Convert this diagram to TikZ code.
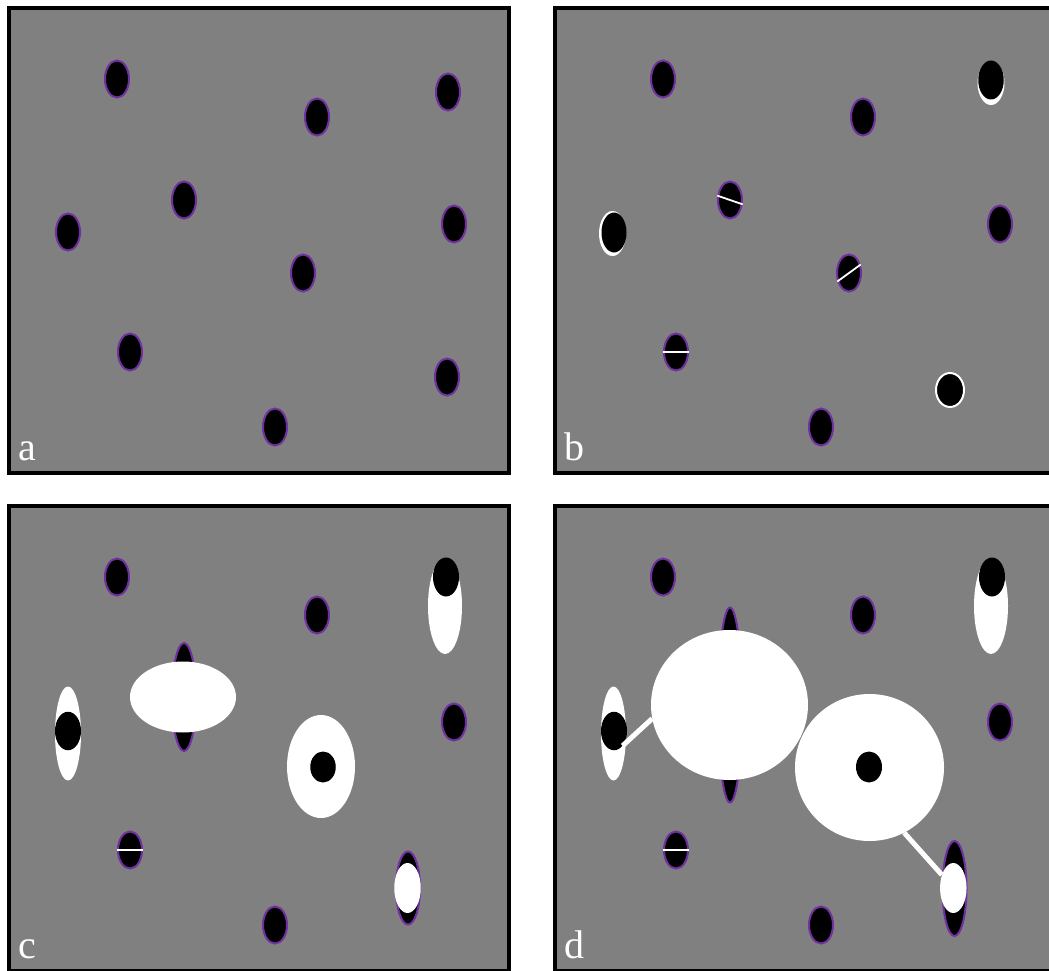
\documentclass[tikz,border=0pt]{standalone}
\usepackage{fontspec}
\setmainfont{Liberation Serif}
\usetikzlibrary{shapes.geometric}
\definecolor{panelgray}{HTML}{808080}
\definecolor{rimpurple}{HTML}{7030A0}
\tikzset{
  panel/.style={
    draw=black,
    fill=panelgray,
    line width=4.5pt
  },
  cell/.style={
    ellipse,
    draw=rimpurple,
    fill=black,
    line width=2pt,
    inner sep=0pt,
    minimum width=24pt,
    minimum height=37pt
  },
  core/.style={
    ellipse,
    fill=black,
    inner sep=0pt,
    minimum width=26pt,
    minimum height=39pt
  },
  halo/.style={
    ellipse,
    fill=white,
    inner sep=0pt
  },
  ring/.style={
    core,
    draw=white,
    line width=2pt,
    minimum width=28pt,
    minimum height=34pt
  },
  cut/.style={
    draw=white,
    line width=1.8pt
  },
  link/.style={
    draw=white,
    line width=5pt
  },
  tag/.style={
    text=white,
    inner sep=0pt,
    anchor=base west,
    font=\fontsize{40}{48}\selectfont
  }
}

\begin{document}
\begin{tikzpicture}[x=1pt,y=-1pt]
  \useasboundingbox (0,0) rectangle (1049,971);
  \clip (0,0) rectangle (1049,971);

  % Panel a
  \begin{scope}
    \draw[panel] (9,8) rectangle (509,473);
    \foreach \n/\x/\y in {1/117/79, 2/317/117, 3/448/92, 4/184/200, 5/68/232,
                          6/454/224, 7/303/273, 8/130/352, 9/447/377, 10/275/427}
      \node[cell] (a\n) at (\x,\y) {};
    \node[tag] (taga) at (18,460) {a};
  \end{scope}

  % Panel b
  \begin{scope}[shift={(546,0)}]
    \draw[panel] (9,8) rectangle (509,473);
    \foreach \n/\x/\y in {1/117/79, 2/317/117, 6/454/224, 10/275/427}
      \node[cell] (b\n) at (\x,\y) {};
    \node[halo, minimum width=27pt, minimum height=44pt] (b3w) at (445,83) {};
    \node[core, minimum width=25.5pt] (b3) at (445,80) {};
    \node[cell] (b4) at (184,200) {};
    \draw[cut] (b4.161) -- (b4.-19);
    \node[halo, minimum width=27pt, minimum height=45pt] (b5w) at (66.5,233.5) {};
    \node[core, minimum width=25pt, minimum height=40pt] (b5) at (68,232.5) {};
    \node[cell] (b7) at (303,273) {};
    \draw[cut] (b7.216) -- (b7.36);
    \node[cell] (b8) at (130,352) {};
    \draw[cut] (b8.west) -- (b8.east);
    \node[ring] (b9) at (404,390) {};
    \node[tag] (tagb) at (18,460) {b};
  \end{scope}

  % Panel c
  \begin{scope}[shift={(0,498)}]
    \draw[panel] (9,8) rectangle (509,473);
    \foreach \n/\x/\y in {1/117/79, 2/317/117, 6/454/224, 10/275/427}
      \node[cell] (c\n) at (\x,\y) {};
    \node[halo, minimum width=34pt, minimum height=96pt] (c3w) at (445,108) {};
    \node[core] (c3) at (446,79) {};
    \node[cell, minimum height=108pt] (c4) at (184,199) {};
    \node[halo, minimum width=106pt, minimum height=71pt] (c4w) at (183,199) {};
    \node[halo, minimum width=26pt, minimum height=94pt] (c5w) at (68,235.5) {};
    \node[core, minimum height=38.5pt] (c5) at (68,233) {};
    \node[halo, minimum width=68pt, minimum height=103pt] (c7w) at (321,268.5) {};
    \node[core, minimum width=25.5pt, minimum height=31pt] (c7) at (323,269) {};
    \node[cell] (c8) at (130,352) {};
    \draw[cut] (c8.west) -- (c8.east);
    \node[cell, minimum height=73pt] (c9) at (408,390) {};
    \node[halo, minimum width=26.5pt, minimum height=50pt] (c9w) at (407.5,390) {};
    \node[tag] (tagc) at (18,460) {c};
  \end{scope}

  % Panel d
  \begin{scope}[shift={(546,498)}]
    \draw[panel] (9,8) rectangle (509,473);
    \foreach \n/\x/\y in {1/117/79, 2/317/117, 6/454/224, 10/275/427}
      \node[cell] (d\n) at (\x,\y) {};
    \node[halo, minimum width=34pt, minimum height=96pt] (d3w) at (445,108) {};
    \node[core] (d3) at (446,79) {};
    \node[cell, minimum height=195pt] (d4) at (184,207) {};
    \node[halo, minimum width=157pt, minimum height=150pt] (d4w) at (183.5,207) {};
    \node[halo, minimum width=25pt, minimum height=94pt] (d5w) at (67.5,235.5) {};
    \node[core, minimum height=38.5pt] (d5) at (68,233) {};
    \node[halo, minimum width=149pt, minimum height=147pt] (d7w) at (323.5,269.5) {};
    \node[core, minimum height=31pt] (d7) at (323,269) {};
    \node[cell] (d8) at (130,352) {};
    \draw[cut] (d8.west) -- (d8.east);
    \node[cell, minimum width=24pt, minimum height=95pt] (d9) at (408.5,390.5) {};
    \node[halo, minimum width=26.5pt, minimum height=50pt] (d9w) at (407.3,390) {};
    \draw[link] (d5.-60) -- (d4w.190);
    \draw[link] (d7w.-62) -- (d9w.131);
    \node[tag] (tagd) at (18,460) {d};
  \end{scope}
\end{tikzpicture}
\end{document}
